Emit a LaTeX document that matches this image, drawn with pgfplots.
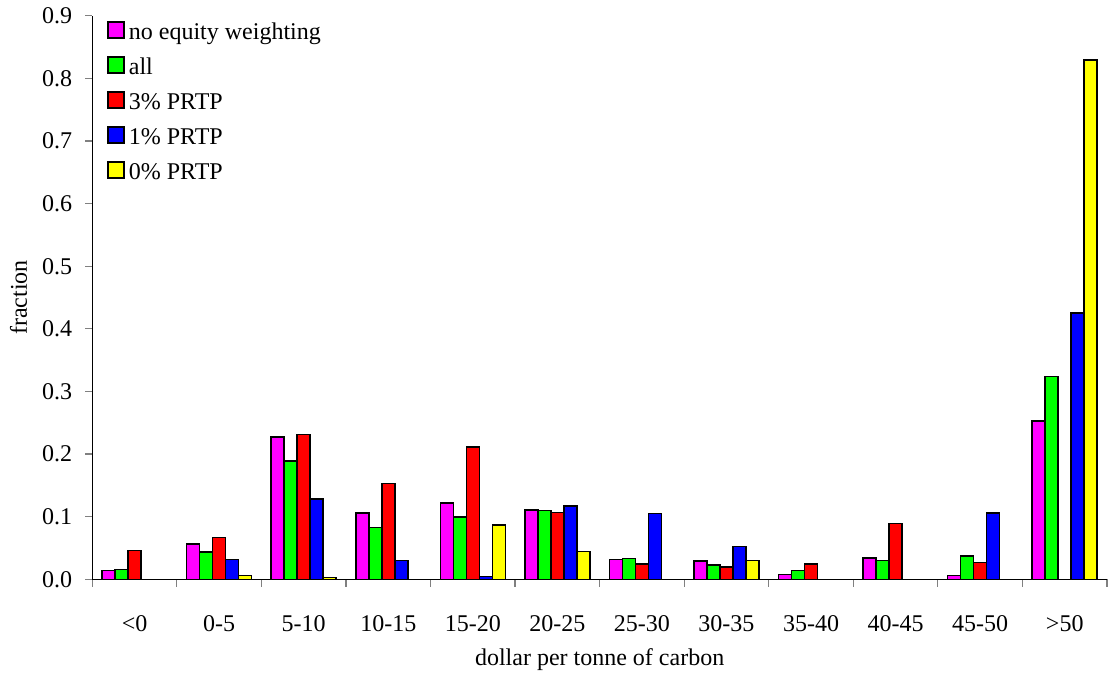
\documentclass[border=0pt]{standalone}
\usepackage{fontspec}
\setmainfont{Liberation Serif}
\usepackage{pgfplots}
\pgfplotsset{compat=1.18}
\definecolor{cMag}{RGB}{255,0,255}
\definecolor{cGre}{RGB}{0,255,0}
\definecolor{cRed}{RGB}{255,0,0}
\definecolor{cBlu}{RGB}{0,0,255}
\definecolor{cYel}{RGB}{255,255,0}
\begin{document}
\begin{tikzpicture}
\useasboundingbox (-46.15pt,-47.85pt) rectangle (509.85pt,289.65pt);
\begin{axis}[
  at={(0pt,0pt)}, anchor=south west,
  scale only axis, width=507.35pt, height=281.75pt,
  font=\fontsize{12}{14}\selectfont,
  /pgf/number format/assume math mode=true,
  ybar=0pt, bar width=0.1537,
  xmin=-0.5, xmax=11.5, ymin=0, ymax=0.9,
  axis lines*=left, axis line style={-, line width=0.6pt},
  tick align=outside,
  xtick={0,...,11},
  xticklabels={<0,0-5,5-10,10-15,15-20,20-25,25-30,30-35,35-40,40-45,45-50,>50},
  major x tick style={draw=none},
  minor xtick={-0.5,0.5,...,11.5},
  minor x tick style={line width=0.6pt},
  minor tick length=3.7pt,
  xticklabel style={anchor=base, yshift=-22.5pt},
  ytick={0,0.1,...,0.9},
  major tick length=3.5pt,
  y tick style={line width=0.6pt},
  yticklabel style={xshift=-3pt, /pgf/number format/.cd, fixed, fixed zerofill, precision=1},
  xlabel={dollar per tonne of carbon},
  xlabel style={at={(axis description cs:0.5,0)}, anchor=base, yshift=-42.85pt},
  ylabel={fraction},
  ylabel style={at={(axis description cs:-0.0644,0.5)}, anchor=base},
  legend style={at={(axis description cs:0,1)}, anchor=north west, xshift=7.35pt, yshift=-2.6pt,
    draw=none, fill=none, inner sep=0pt, row sep=5.5pt,
    nodes={inner sep=0pt, text height=9pt, text depth=3pt},
    font=\fontsize{12}{14}\selectfont},
  legend cell align=left,
  legend image code/.code={\draw[#1, draw=black, line width=0.75pt] (0pt,-2.4pt) rectangle (8pt,5.6pt); \path (10pt,0pt);},
]
\addplot[draw=black, line width=0.75pt, fill=cMag] coordinates {(0,0.0137) (1,0.056) (2,0.227) (3,0.106) (4,0.122) (5,0.1107) (6,0.032) (7,0.029) (8,0.008) (9,0.034) (10,0.0064) (11,0.253)};
\addplot[draw=black, line width=0.75pt, fill=cGre] coordinates {(0,0.0153) (1,0.0436) (2,0.189) (3,0.0825) (4,0.0995) (5,0.1096) (6,0.0329) (7,0.0228) (8,0.0143) (9,0.0297) (10,0.0372) (11,0.3237)};
\addplot[draw=black, line width=0.75pt, fill=cRed] coordinates {(0,0.046) (1,0.0665) (2,0.2316) (3,0.153) (4,0.211) (5,0.1064) (6,0.0244) (7,0.0196) (8,0.0244) (9,0.0894) (10,0.027) (11,0)};
\addplot[draw=black, line width=0.75pt, fill=cBlu] coordinates {(1,0.032) (2,0.128) (3,0.0297) (4,0.0048) (5,0.117) (6,0.105) (7,0.052) (10,0.106) (11,0.4254)};
\addplot[draw=black, line width=0.75pt, fill=cYel] coordinates {(1,0.006) (2,0.0026) (4,0.087) (5,0.0447) (7,0.0297) (11,0.8296)};
\legend{no equity weighting, all, 3\% PRTP, 1\% PRTP, 0\% PRTP}
\end{axis}
\end{tikzpicture}
\end{document}
